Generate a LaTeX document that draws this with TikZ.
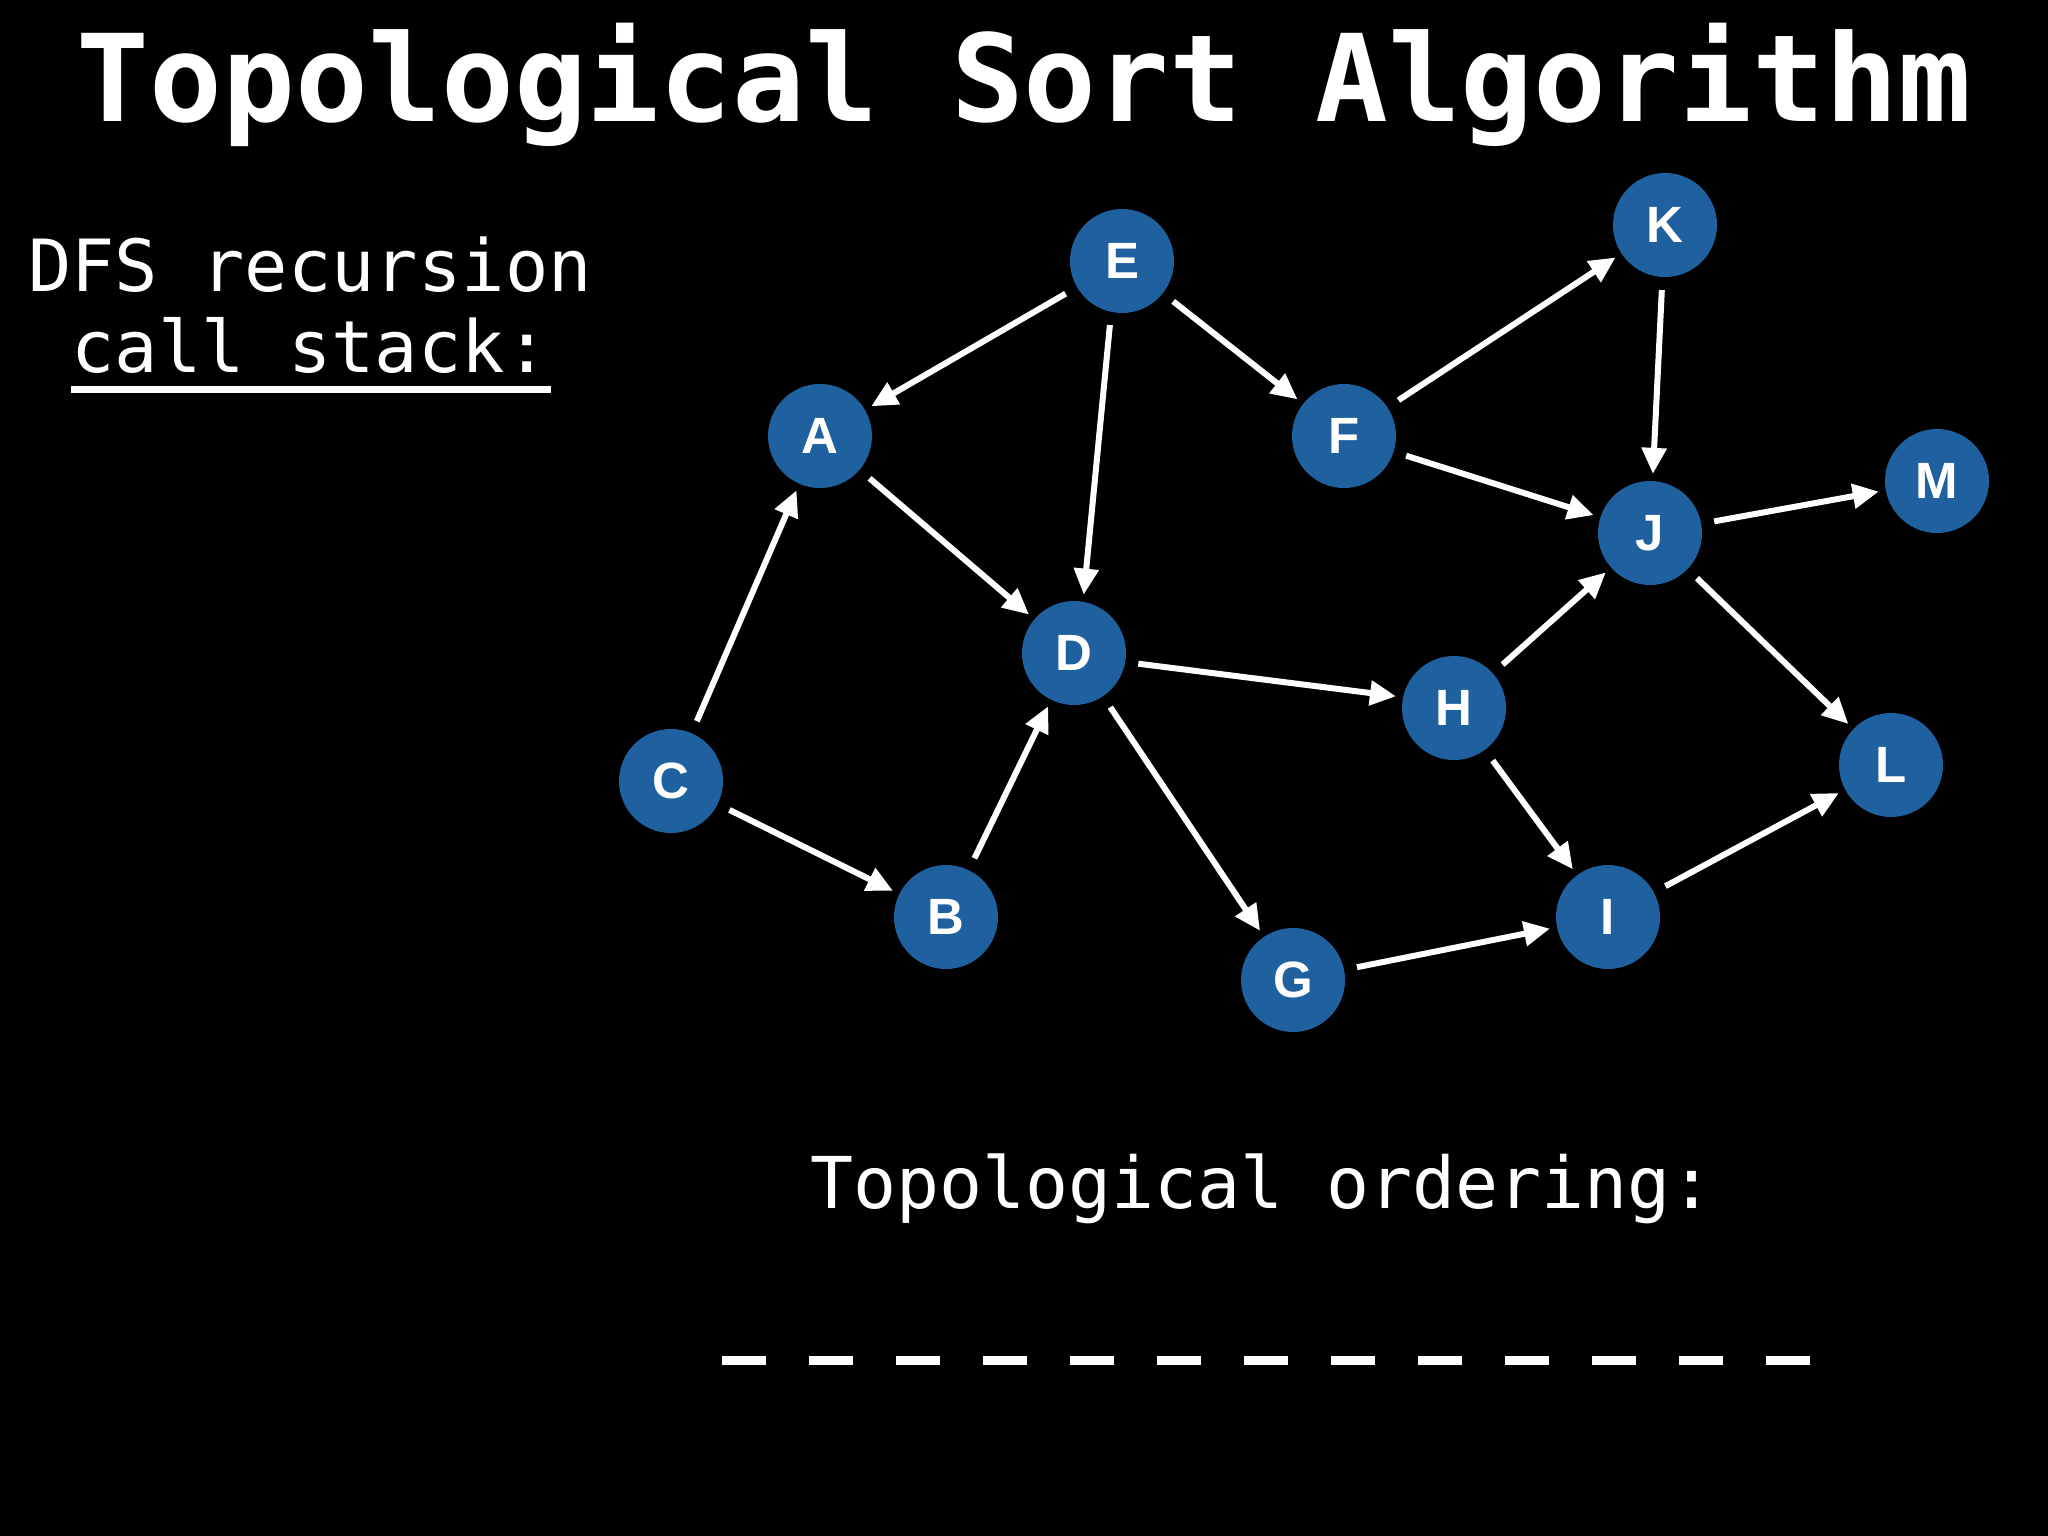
\documentclass[tikz,border=0pt]{standalone}
\usepackage{fontspec}
\setmainfont{Liberation Sans}
\newfontfamily\monofont{DejaVu Sans Mono}
\usetikzlibrary{arrows.meta}
\definecolor{nodeblue}{RGB}{31,96,158}
\tikzset{
  vtx/.style={circle, fill=nodeblue, minimum size=104pt, inner sep=0pt, text=white,
    font=\fontsize{51}{51}\selectfont\bfseries},
  edge/.style={draw=white, line width=6pt, -{Triangle[length=26pt,width=24pt]},
    shorten <=13pt, shorten >=7pt},
  monotext/.style={text=white, inner sep=0pt, anchor=base}
}
\begin{document}
\begin{tikzpicture}[x=1pt,y=-1pt]
\fill[black] (0,0) rectangle (2048,1536);
\useasboundingbox (0,0) rectangle (2048,1536);

\node[monotext, font=\monofont\bfseries\fontsize{121}{121}\selectfont] (title) at (1024,122) {Topological Sort Algorithm};

\node[monotext, font=\monofont\fontsize{72}{72}\selectfont] (dfs1) at (310,291) {DFS recursion};
\node[monotext, font=\monofont\fontsize{72}{72}\selectfont] (dfs2) at (310,372) {call stack:};
\coordinate (ul1) at (71,389);
\coordinate (ul2) at (551,389);
\draw[white, line width=7pt] (ul1) -- (ul2);

\node[monotext, font=\monofont\fontsize{71.5}{71.5}\selectfont] (topo) at (1262,1208) {Topological ordering:};
\foreach \i in {0,...,12} {
  \fill[white] (722+87*\i,1356) rectangle (766+87*\i,1365);
}

\node[vtx] (E) at (1122,261) {E};
\node[vtx] (K) at (1665,225) {K};
\node[vtx] (A) at (820,436) {A};
\node[vtx] (F) at (1344,436) {F};
\node[vtx] (M) at (1937,481) {M};
\node[vtx] (J) at (1650,533) {J};
\node[vtx] (D) at (1074,653) {D};
\node[vtx] (H) at (1454,708) {H};
\node[vtx] (L) at (1891,765) {L};
\node[vtx] (C) at (671,781) {C};
\node[vtx] (B) at (946,917) {B};
\node[vtx] (I) at (1608,917) {I};
\node[vtx] (G) at (1293,980) {G};

\draw[edge] (E) -- (A);
\draw[edge] (E.258) -- (D.80);
\draw[edge] (E) -- (F);
\draw[edge] (A) -- (D);
\draw[edge] (C) -- (A);
\draw[edge] (C) -- (B);
\draw[edge] (B) -- (D);
\draw[edge] (D.-10) -- (H.168);
\draw[edge] (D) -- (G);
\draw[edge] (F) -- (K);
\draw[edge] (F) -- (J);
\draw[edge] (K) -- (J);
\draw[edge] (J) -- (M);
\draw[edge] (J) -- (L);
\draw[edge] (H) -- (J);
\draw[edge] (H) -- (I);
\draw[edge] (G) -- (I);
\draw[edge] (I) -- (L);
\end{tikzpicture}
\end{document}
